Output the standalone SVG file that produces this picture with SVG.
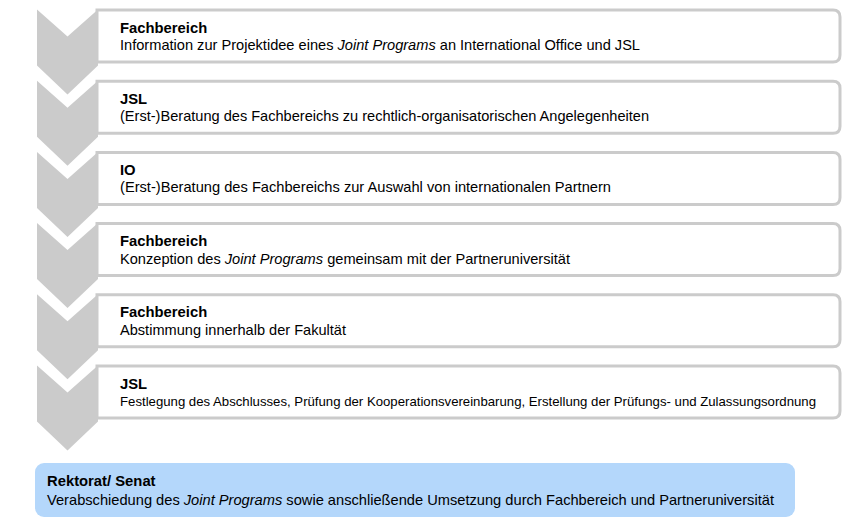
<svg xmlns="http://www.w3.org/2000/svg" width="849" height="532" viewBox="0 0 849 532">
<style>
.chev{fill:#cbcbcb}
.box{fill:#ffffff;stroke:#cbcbcb;stroke-width:3}
.t{font-family:"Liberation Sans",Arial,sans-serif;font-size:14.6px;fill:#000}
.b{font-weight:bold;font-size:14.8px}
.i{font-style:italic}
.n{font-size:13px}
</style>
<rect width="849" height="532" fill="#ffffff"/>
<defs>
<path id="chevron" class="chev" d="M37,0 L67.5,27 L98,0 L98,56 L67.5,85 L37,56 Z"/>
<path id="card" class="box" d="M97,0 H833 Q840,0 840,7 V45 Q840,52 833,52 H97 Z"/>
</defs>
<g id="step1">
<use href="#card" y="10"/><use href="#chevron" y="9.5"/>
<text class="t b" x="120" y="32.5">Fachbereich</text>
<text class="t" x="120" y="50" textLength="520" lengthAdjust="spacingAndGlyphs">Information zur Projektidee eines <tspan class="i">Joint Programs</tspan> an International  Office und JSL</text>
</g>
<g id="step2">
<use href="#card" y="81.2"/><use href="#chevron" y="80.7"/>
<text class="t b" x="120" y="103.7">JSL</text>
<text class="t" x="120" y="121.2" textLength="529" lengthAdjust="spacingAndGlyphs">(Erst-)Beratung des Fachbereichs zu rechtlich-organisatorischen Angelegenheiten</text>
</g>
<g id="step3">
<use href="#card" y="152.4"/><use href="#chevron" y="151.9"/>
<text class="t b" x="120" y="174.9">IO</text>
<text class="t" x="120" y="192.4" textLength="491" lengthAdjust="spacingAndGlyphs">(Erst-)Beratung des Fachbereichs zur Auswahl von internationalen  Partnern</text>
</g>
<g id="step4">
<use href="#card" y="223.6"/><use href="#chevron" y="223.1"/>
<text class="t b" x="120" y="246.1">Fachbereich</text>
<text class="t" x="120" y="263.6" textLength="450" lengthAdjust="spacingAndGlyphs">Konzeption des <tspan class="i">Joint Programs</tspan> gemeinsam mit der Partneruniversität</text>
</g>
<g id="step5">
<use href="#card" y="294.8"/><use href="#chevron" y="294.3"/>
<text class="t b" x="120" y="317.3">Fachbereich</text>
<text class="t" x="120" y="334.8" textLength="226" lengthAdjust="spacingAndGlyphs">Abstimmung innerhalb  der Fakultät</text>
</g>
<g id="step6">
<use href="#card" y="366"/><use href="#chevron" y="365.5"/>
<text class="t b" x="120" y="388.5">JSL</text>
<text class="t n" x="120" y="406" textLength="696" lengthAdjust="spacingAndGlyphs">Festlegung des Abschlusses, Prüfung der Kooperationsvereinbarung, Erstellung der Prüfungs- und Zulassungsordnung</text>
</g>
<g id="final">
<rect x="35" y="463" width="760" height="54" rx="9" fill="#b4d7fb"/>
<text class="t b" x="47" y="486">Rektorat/ Senat</text>
<text class="t" x="47" y="505" textLength="727" lengthAdjust="spacingAndGlyphs">Verabschiedung des <tspan class="i">Joint Programs</tspan> sowie anschließende Umsetzung durch Fachbereich und Partneruniversität</text>
</g>
<g id="connectors"></g>
</svg>
